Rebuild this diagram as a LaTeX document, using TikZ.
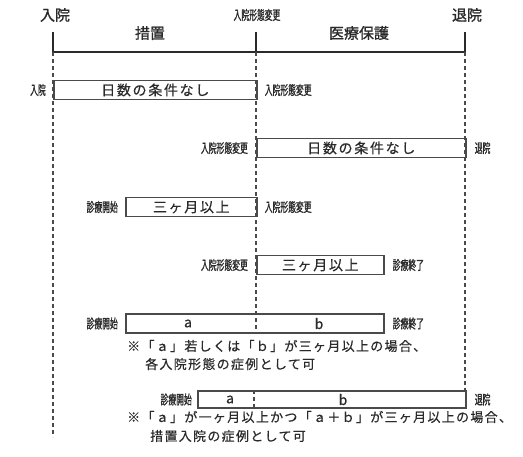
\documentclass[tikz,border=0pt]{standalone}
\usepackage{fontspec}
\setmainfont{Noto Sans CJK JP}
\newfontfamily\headfont[FakeBold=1.2]{Noto Sans CJK JP}
\newfontfamily\narrowfont[FakeStretch=0.6,FakeBold=1.2]{Noto Sans CJK JP}
\newfontfamily\boxfont[LetterSpace=12,FakeBold=0.4]{Noto Sans CJK JP}
\newfontfamily\notefont[LetterSpace=10,FakeBold=0.6]{Noto Sans CJK JP}
\usetikzlibrary{positioning}
\definecolor{ink}{HTML}{2A2A2A}
\definecolor{edge}{HTML}{4A4A4A}
\tikzset{
	head/.style={text=ink, inner sep=0pt, font=\headfont\fontsize{15}{15}\selectfont},
	lbl/.style={text=ink, inner sep=0pt, font=\narrowfont\fontsize{13}{13}\selectfont},
	bar/.style={draw=edge, line width=1.6pt, minimum height=19pt, inner sep=0pt, anchor=west, text=ink, font=\boxfont\fontsize{14}{14}\selectfont},
	note/.style={text=ink, inner sep=0pt, anchor=west, font=\notefont\fontsize{13}{13}\selectfont},
	guide/.style={draw=edge, line width=1.5pt, dash pattern=on 4pt off 3pt},
	frame/.style={draw=ink, line width=1.5pt}
}
\begin{document}
\begin{tikzpicture}[x=1pt, y=-1pt]
		\useasboundingbox (0,0) rectangle (523,456);
		\coordinate (L) at (53,52);
		\coordinate (M) at (256,52);
		\coordinate (R) at (465,52);
		\draw[frame] (L) ++(0,-20) -- (L) -- (R) -- ++(0,-20);
		\draw[frame] (M) -- ++(0,-20);
		\node[head] (h1) at (55,15) {入院};
		\node[lbl] (h2) at (257,15) {入院形態変更};
		\node[head] (h3) at (467,15) {退院};
		\node[head] (p1) at (150,33) {措置};
		\node[head] (p2) at (359,33) {医療保護};
		\node[bar, minimum width=203pt] (r1) at (53,90) {日数の条件なし};
		\node[lbl, left=7pt of r1] (r1l) {入院};
		\node[lbl, right=7pt of r1] (r1r) {入院形態変更};
		\node[bar, minimum width=209pt] (r2) at (256,148) {日数の条件なし};
		\node[lbl, left=8pt of r2] (r2l) {入院形態変更};
		\node[lbl, right=8pt of r2] (r2r) {退院};
		\node[bar, minimum width=131pt] (r3) at (125,207) {三ヶ月以上};
		\node[lbl, left=7pt of r3] (r3l) {診療開始};
		\node[lbl, right=7pt of r3] (r3r) {入院形態変更};
		\node[bar, minimum width=127pt] (r4) at (256,265) {三ヶ月以上};
		\node[lbl, left=8pt of r4] (r4l) {入院形態変更};
		\node[lbl, right=8pt of r4] (r4r) {診療終了};
		\node[bar, minimum width=258pt] (r5) at (125,323.5) {};
		\node[text=ink, font=\boxfont\fontsize{14}{14}\selectfont] (r5a) at (188,323.5) {a};
		\node[text=ink, font=\boxfont\fontsize{14}{14}\selectfont] (r5b) at (319,323.5) {b};
		\node[lbl, left=7pt of r5] (r5l) {診療開始};
		\node[lbl, right=8pt of r5] (r5r) {診療終了};
		\node[note] (n1) at (127,346) {※「ａ」若しくは「ｂ」が三ヶ月以上の場合、};
		\node[note] (n1b) at (145,364) {各入院形態の症例として可};
		\node[bar, minimum width=268pt, minimum height=17pt] (r6) at (197,399.5) {};
		\node[text=ink, font=\boxfont\fontsize{14}{14}\selectfont] (r6a) at (230,399.5) {a};
		\node[text=ink, font=\boxfont\fontsize{14}{14}\selectfont] (r6b) at (343,399.5) {b};
		\node[lbl, left=5pt of r6] (r6l) {診療開始};
		\node[lbl, right=8pt of r6] (r6r) {退院};
		\coordinate (D) at (254,0);
		\draw[guide] (D |- r6.north) -- (D |- r6.south);
		\node[note] (n2) at (127,417) {※「ａ」が一ヶ月以上かつ「ａ＋ｂ」が三ヶ月以上の場合、};
		\node[note] (n2b) at (150,436) {措置入院の症例として可};
		\draw[guide] (L) -- ++(0,385);
		\draw[guide] (M) -- (M |- r5.south);
		\draw[guide] (R) -- (R |- r6.north);
		\end{tikzpicture}
\end{document}
